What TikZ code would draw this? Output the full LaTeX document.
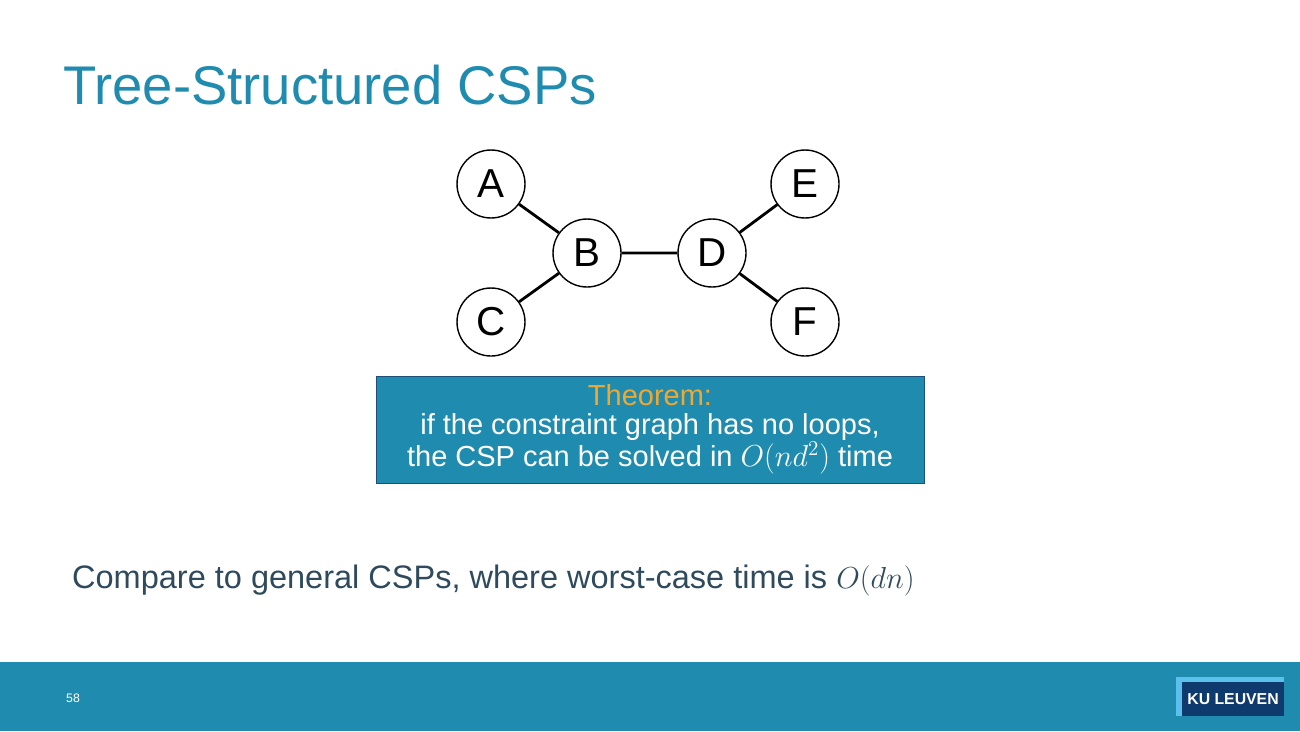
\documentclass[tikz,border=0pt]{standalone}
\usepackage{fontspec}
\setmainfont{Liberation Sans}
\usepackage{xcolor}
\definecolor{kublue}{HTML}{1F8CAF}
\definecolor{kudark}{HTML}{1D4F78}
\definecolor{kunavy}{HTML}{0F3A6E}
\definecolor{kulight}{HTML}{5BC0EB}
\definecolor{kutext}{HTML}{2E4A5C}
\definecolor{kugold}{HTML}{F0A830}
\tikzset{var/.style={circle,draw,thick,fill=white,minimum size=1.36cm,inner sep=0pt,font=\fontsize{23}{23}\selectfont},
         tie/.style={line width=1.6pt}}
\begin{document}
\begin{tikzpicture}[x=0.02cm,y=-0.02cm]
    % page and footer
    \useasboundingbox (0,0) rectangle (1300,731);
    \fill[kublue] (0,662) rectangle (1300,731);
    \node[anchor=west,white,font=\fontsize{7}{7}\selectfont] (num) at (60,698) {58};
    % logo
    \fill[kulight] (1176,677) rectangle (1284,716);
    \fill[kunavy] (1182,682) rectangle (1284,716);
    \node[white,font=\bfseries\fontsize{9}{9}\selectfont] (logo) at (1233,699) {KU LEUVEN};
    % title
    \node[anchor=west,kublue,font=\fontsize{31}{31}\selectfont] (title) at (57,85) {Tree-Structured CSPs};
    % constraint graph
    \node[var] (A) at (491,184) {A};
    \node[var] (B) at (587,253) {B};
    \node[var] (C) at (491,322) {C};
    \node[var] (D) at (712,253) {D};
    \node[var] (E) at (805,184) {E};
    \node[var] (F) at (805,322) {F};
    \draw[tie] (A) -- (B) (C) -- (B) (B) -- (D) (D) -- (E) (D) -- (F);
    % theorem box
    \node[draw=kudark,fill=kublue,minimum width=548*0.02cm,minimum height=107*0.02cm,align=center,
          text=white,font=\fontsize{16.5}{16.5}\selectfont] (thm) at (650,429.5)
        {\textcolor{kugold}{Theorem:}\\if the constraint graph has no loops,\\the CSP can be solved in $O(nd^2)$ time};
    % bottom line
    \node[anchor=west,kutext,font=\fontsize{18.5}{18.5}\selectfont] (cmp) at (66,580)
        {Compare to general CSPs, where worst-case time is $O(dn)$};
\end{tikzpicture}
\end{document}
